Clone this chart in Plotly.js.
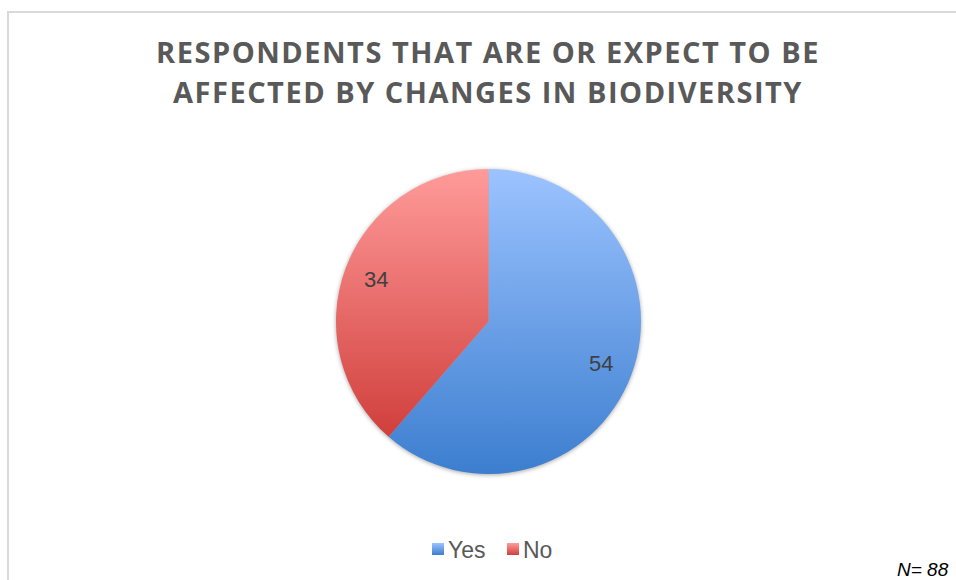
<!DOCTYPE html>
<html>
<head>
<meta charset="utf-8">
<script src="https://cdn.plot.ly/plotly-3.0.1.min.js"></script>
<style>
  html, body { margin: 0; padding: 0; background: #fff; }
  #chart { width: 956px; height: 580px; }
  .gtitle { letter-spacing: 1.5px; }
  .pielayer .trace { filter: drop-shadow(0px 1px 2px rgba(0,0,0,0.35)); }
</style>
</head>
<body>
<div id="chart"></div>
<script>
// ---- data ----
const categories = ["Yes", "No"];
const counts = [54, 34];
const sampleNote = "N= 88";
const chartTitle = "RESPONDENTS THAT ARE OR EXPECT TO BE<br>AFFECTED BY CHANGES IN BIODIVERSITY";

// gradient stops per category (top -> bottom)
const gradTop = ["#9cc3ff", "#ff9b9a"];
const gradBottom = ["#3c7ecf", "#d03f3c"];
const midColors = ["#6d9fe6", "#e66d6b"];

// pie geometry (paper domain)
const pieDomainX = [336 / 956, 641 / 956];
const pieDomainY = [1 - 474 / 580, 1 - 169 / 580];
const labelRadiusFrac = 0.79;

// data labels placed along each slice's mid-angle (computed from the values)
const total = counts.reduce(function (a, b) { return a + b; }, 0);
const W = 956, H = 580;
const cx = (pieDomainX[0] + pieDomainX[1]) / 2 * W;
const cyTop = (1 - (pieDomainY[0] + pieDomainY[1]) / 2) * H;
const R = Math.min((pieDomainX[1] - pieDomainX[0]) * W, (pieDomainY[1] - pieDomainY[0]) * H) / 2;
let cum = 0;
const labelAnnots = counts.map(function (v) {
  const mid = (cum + v / 2) / total * 2 * Math.PI;
  cum += v;
  const px = cx + labelRadiusFrac * R * Math.sin(mid);
  const py = cyTop - labelRadiusFrac * R * Math.cos(mid);
  return {
    text: String(v), showarrow: false, xref: "paper", yref: "paper",
    x: px / W, y: 1 - py / H, xanchor: "center", yanchor: "middle",
    font: { family: "Liberation Sans, Arial, sans-serif", size: 22, color: "#404040" }
  };
});

const trace = {
  type: "pie",
  labels: categories,
  values: counts,
  sort: false,
  direction: "clockwise",
  rotation: 0,
  marker: { colors: midColors, line: { width: 0 } },
  textinfo: "none",
  domain: { x: pieDomainX, y: pieDomainY },
  hoverinfo: "label+value"
};

const layout = {
  width: W,
  height: H,
  margin: { l: 0, r: 0, t: 0, b: 0 },
  paper_bgcolor: "#ffffff",
  title: {
    text: chartTitle,
    font: { family: "Open Sans, sans-serif", size: 29, weight: 700, color: "#595959" },
    x: 488 / 956, xanchor: "center", xref: "container",
    y: 1 - 63 / 580, yanchor: "middle", yref: "container"
  },
  showlegend: true,
  legend: {
    orientation: "h",
    x: 483 / 956, xanchor: "center",
    y: 1 - 549 / 580, yanchor: "middle",
    font: { family: "Liberation Sans, Arial, sans-serif", size: 23, color: "#595959" },
    itemwidth: 30,
    entrywidth: 30,
    entrywidthmode: "pixels",
    tracegroupgap: 0
  },
  shapes: [{
    type: "rect", xref: "paper", yref: "paper",
    x0: 8 / 956, x1: 1.1, y0: -0.1, y1: 1 - 12 / 580,
    line: { color: "#d9d9d9", width: 2 }, fillcolor: "rgba(0,0,0,0)", layer: "below"
  }],
  annotations: labelAnnots.concat([{
    text: sampleNote, showarrow: false,
    xref: "paper", yref: "paper",
    x: 951 / 956, xanchor: "right",
    y: 1 - 569 / 580, yanchor: "middle",
    font: { family: "Liberation Sans, Arial, sans-serif", size: 19, color: "#000000", style: "italic" }
  }])
};

const gd = document.getElementById("chart");
Plotly.newPlot(gd, [trace], layout, { displayModeBar: false, staticPlot: true }).then(function () {
  const ns = "http://www.w3.org/2000/svg";
  const svg = gd.querySelector("svg.main-svg");
  let defs = svg.querySelector("defs");
  if (!defs) { defs = document.createElementNS(ns, "defs"); svg.insertBefore(defs, svg.firstChild); }
  categories.forEach(function (c, i) {
    const g = document.createElementNS(ns, "linearGradient");
    g.setAttribute("id", "grad" + i);
    g.setAttribute("x1", "0"); g.setAttribute("y1", "0");
    g.setAttribute("x2", "0"); g.setAttribute("y2", "1");
    const s1 = document.createElementNS(ns, "stop");
    s1.setAttribute("offset", "0"); s1.setAttribute("stop-color", gradTop[i]);
    const s2 = document.createElementNS(ns, "stop");
    s2.setAttribute("offset", "1"); s2.setAttribute("stop-color", gradBottom[i]);
    g.appendChild(s1); g.appendChild(s2);
    defs.appendChild(g);
  });
  gd.querySelectorAll(".pielayer .slice path.surface").forEach(function (p, i) {
    p.style.fill = "url(#grad" + i + ")";
  });
  gd.querySelectorAll(".legend .traces").forEach(function (t, i) {
    t.querySelectorAll(".legendpoints path").forEach(function (p) {
      p.style.fill = "url(#grad" + i + ")";
    });
    // bring swatch closer to its text, as in the original
    const lp = t.querySelector(".legendpoints");
    if (lp) lp.setAttribute("transform", "translate(10,0)");
  });
  // slightly wider line spacing in the title
  const lines = gd.querySelectorAll(".gtitle tspan.line");
  if (lines.length > 1) lines[1].setAttribute("dy", "1.38em");
});
</script>
</body>
</html>
